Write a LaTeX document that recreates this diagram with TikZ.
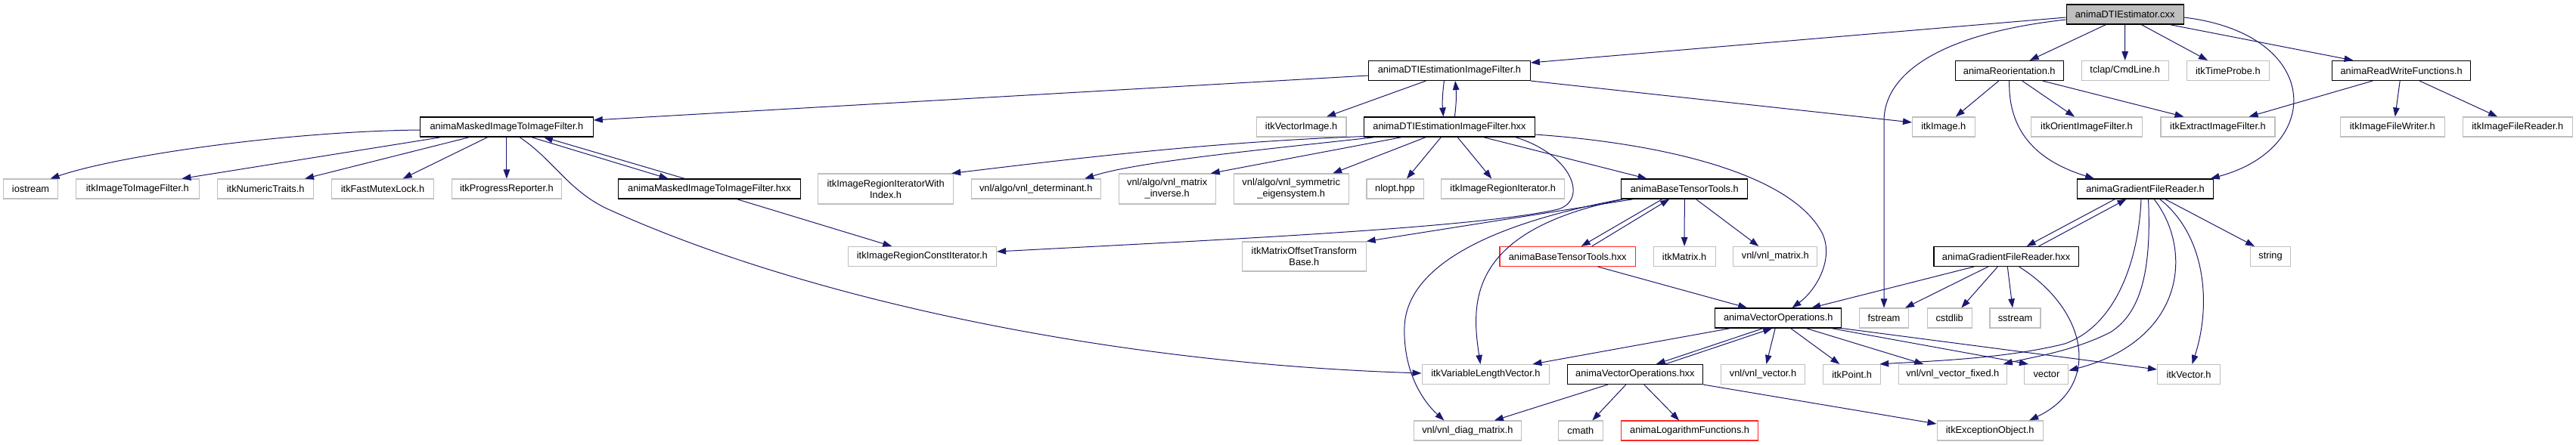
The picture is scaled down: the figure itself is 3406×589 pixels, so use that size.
\documentclass[tikz,border=0pt]{standalone}
\usepackage{fontspec}
\setmainfont{Liberation Sans}
\usepackage{tikz}
\usetikzlibrary{positioning,shapes.geometric,arrows.meta,calc}
\usepackage{xcolor}
\definecolor{edgeblue}{RGB}{25,25,112}
\definecolor{extgray}{RGB}{191,191,191}

\begin{document}
\begin{tikzpicture}[
    x=1pt, y=-1pt,
    >=Triangle,
    hdr/.style={
        rectangle, draw=black, line width=1.1pt, fill=white,
        minimum height=26pt, inner sep=0pt,
        font={\fontsize{12.8}{15}\selectfont}, align=center
    },
    ext/.style={hdr, draw=extgray},
    trunc/.style={hdr, draw=red!85},
    rootfile/.style={hdr, fill=extgray},
    arrow/.style={-{Triangle[length=12pt,width=8.5pt]}, line width=1pt, draw=edgeblue}
]
\useasboundingbox (0,0) rectangle (3406,589);

% Root
\node[rootfile, minimum width=155pt] (root) at (2809.6,19) {animaDTIEstimator.cxx};

% First level includes
\node[hdr, minimum width=213.8pt] (dtih) at (1916.4,93.5) {animaDTIEstimationImageFilter.h};
\node[hdr, minimum width=143.2pt] (reor) at (2656.7,93.5) {animaReorientation.h};
\node[ext, minimum width=114.8pt] (tclap) at (2809.7,93.5) {tclap/CmdLine.h};
\node[ext, minimum width=109.5pt] (timeprobe) at (2945.8,93.5) {itkTimeProbe.h};
\node[hdr, minimum width=182.8pt] (rwf) at (3175.2,93.5) {animaReadWriteFunctions.h};

% Second level
\node[hdr, minimum width=228.6pt] (masked) at (669.9,168) {animaMaskedImageToImageFilter.h};
\node[ext, minimum width=118.8pt] (vecimg) at (1720.6,168) {itkVectorImage.h};
\node[hdr, minimum width=225.7pt] (dtihxx) at (1916.4,168) {animaDTIEstimationImageFilter.hxx};
\node[ext, minimum width=82.5pt] (itkimage) at (2569.8,168) {itkImage.h};
\node[ext, minimum width=146.6pt] (orient) at (2759,168) {itkOrientImageFilter.h};
\node[ext, minimum width=151pt] (extract) at (2932.5,168) {itkExtractImageFilter.h};
\node[ext, minimum width=137.9pt] (writer) at (3163.3,168) {itkImageFileWriter.h};
\node[ext, minimum width=144.6pt] (reader) at (3328.8,168) {itkImageFileReader.h};

% Third level
\node[ext, minimum width=71.4pt] (iostream) at (40.5,250) {iostream};
\node[ext, minimum width=163.2pt] (i2i) at (181.8,250) {itkImageToImageFilter.h};
\node[ext, minimum width=126.9pt] (numeric) at (351.2,250) {itkNumericTraits.h};
\node[ext, minimum width=135.4pt] (mutex) at (506,250) {itkFastMutexLock.h};
\node[ext, minimum width=145.7pt] (progress) at (669.9,250) {itkProgressReporter.h};
\node[hdr, minimum width=240.5pt] (maskedhxx) at (938,250) {animaMaskedImageToImageFilter.hxx};
\node[ext, minimum width=179pt, minimum height=40pt] (ritwi) at (1171.1,250) {itkImageRegionIteratorWith\\Index.h};
\node[ext, minimum width=170.9pt] (determinant) at (1369.7,250) {vnl/algo/vnl\_determinant.h};
\node[ext, minimum width=128pt, minimum height=40pt] (matinv) at (1543.2,250) {vnl/algo/vnl\_matrix\\\_inverse.h};
\node[ext, minimum width=152pt, minimum height=40pt] (symeig) at (1707.2,250) {vnl/algo/vnl\_symmetric\\\_eigensystem.h};
\node[ext, minimum width=75.1pt] (nlopt) at (1844.5,250) {nlopt.hpp};
\node[ext, minimum width=163.2pt] (rit) at (1987.2,250) {itkImageRegionIterator.h};
\node[hdr, minimum width=166.8pt] (btt) at (2227.3,250) {animaBaseTensorTools.h};
\node[hdr, minimum width=179.3pt] (gfr) at (2836.5,250) {animaGradientFileReader.h};

% Fourth level
\node[ext, minimum width=196.4pt] (constit) at (1219.3,339.5) {itkImageRegionConstIterator.h};
\node[ext, minimum width=163.4pt, minimum height=39pt] (mot) at (1724.4,339.5) {itkMatrixOffsetTransform\\Base.h};
\node[trunc, minimum width=179.4pt] (btthxx) at (2072.7,339.5) {animaBaseTensorTools.hxx};
\node[ext, minimum width=82.1pt] (matrix) at (2227.1,339.5) {itkMatrix.h};
\node[ext, minimum width=111pt] (vnlmatrix) at (2347.3,339.5) {vnl/vnl\_matrix.h};
\node[hdr, minimum width=191.2pt] (gfrhxx) at (2652.6,339.5) {animaGradientFileReader.hxx};
\node[ext, minimum width=53.8pt] (string) at (3002,339.5) {string};

% Fifth level
\node[hdr, minimum width=166.9pt] (vecop) at (2351.2,421) {animaVectorOperations.h};
\node[ext, minimum width=65.5pt] (fstream) at (2491,421) {fstream};
\node[ext, minimum width=59.2pt] (cstdlib) at (2577.7,421) {cstdlib};
\node[ext, minimum width=67pt] (sstream) at (2664.5,421) {sstream};

% Sixth level
\node[ext, minimum width=168.7pt] (varlen) at (1964.4,495.5) {itkVariableLengthVector.h};
\node[hdr, minimum width=179.4pt] (vecophxx) at (2161.8,495.5) {animaVectorOperations.hxx};
\node[ext, minimum width=111pt] (vnlvector) at (2331,495.5) {vnl/vnl\_vector.h};
\node[ext, minimum width=76.2pt] (point) at (2448.6,495.5) {itkPoint.h};
\node[ext, minimum width=142.8pt] (vecfixed) at (2581.8,495.5) {vnl/vnl\_vector\_fixed.h};
\node[ext, minimum width=58pt] (vector) at (2705.9,495.5) {vector};
\node[ext, minimum width=83pt] (itkvector) at (2894,495.5) {itkVector.h};

% Seventh level
\node[ext, minimum width=142pt] (diag) at (1940.4,570) {vnl/vnl\_diag\_matrix.h};
\node[ext, minimum width=59.1pt] (cmath) at (2089.9,570) {cmath};
\node[trunc, minimum width=180.4pt] (logfn) at (2234.1,570) {animaLogarithmFunctions.h};
\node[ext, minimum width=140.2pt] (exc) at (2631.2,570) {itkExceptionObject.h};

% Edges from the root
\draw[arrow] ([yshift=-4]root.west) -- ([yshift=10.5]dtih.east);
\draw[arrow] ([yshift=-7]root.west) .. controls (2560,45) and (2491,100) .. (2491,160) -- (fstream.north);
\draw[arrow] ([xshift=-25]root.south) -- ([xshift=27]reor.north);
\draw[arrow] (root.south) -- (tclap.north);
\draw[arrow] ([xshift=21.6]root.south) -- ([xshift=-26.8]timeprobe.north);
\draw[arrow] ([xshift=59]root.south) -- ([xshift=-63.7]rwf.north);
\draw[arrow] ([yshift=-4]root.east) .. controls (3070,45) and (3075,195) .. ([xshift=-4]gfr.north east);

% DTI estimation filter
\draw[arrow] ([yshift=-6.5]dtih.west) -- ([yshift=9]masked.east);
\draw[arrow] ([xshift=-31]dtih.south) -- ([xshift=33.4]vecimg.north);
\draw[arrow] ([xshift=-7]dtih.south) to[bend right=6] ([xshift=-8]dtihxx.north);
\draw[arrow] ([xshift=7]dtihxx.north) to[bend right=6] ([xshift=7.7]dtih.south);
\draw[arrow] (dtih.south east) -- ([yshift=6]itkimage.west);

% Reorientation and read/write
\draw[arrow] ([xshift=-14]reor.south) -- ([xshift=16]itkimage.north);
\draw[arrow] ([xshift=17]reor.south) -- ([xshift=-16]orient.north);
\draw[arrow] ([xshift=44]reor.south) -- ([xshift=-45]extract.north);
\draw[arrow] (reor.south) .. controls (2655,180) and (2700,215) .. ([xshift=-67.5]gfr.north);
\draw[arrow] ([xshift=-38]rwf.south) -- ([xshift=41]extract.north);
\draw[arrow] ([xshift=-2]rwf.south) -- ([xshift=3.5]writer.north);
\draw[arrow] ([xshift=24]rwf.south) -- ([xshift=-26.7]reader.north);

% Masked filter
\draw[arrow] ([yshift=-4]masked.west) .. controls (380,174) and (160,205) .. ([xshift=26]iostream.north);
\draw[arrow] ([xshift=-86]masked.south) -- ([xshift=58.6]i2i.north);
\draw[arrow] ([xshift=-49]masked.south) -- ([xshift=51.8]numeric.north);
\draw[arrow] ([xshift=-25]masked.south) -- ([xshift=26.7]mutex.north);
\draw[arrow] (masked.south) -- (progress.north);
\draw[arrow] ([xshift=32.4]masked.south) -- ([xshift=-54.5]maskedhxx.north);
\draw[arrow] ([xshift=-32.4]maskedhxx.north) -- ([xshift=49]masked.south);
\draw[arrow] ([xshift=17]masked.south) .. controls (730,210) and (750,250) .. (800,275)
    .. controls (1050,390) and (1450,480) .. ([yshift=1.5]varlen.west);
\draw[arrow] ([xshift=36]maskedhxx.south) -- ([xshift=-40]constit.north);

% DTI estimation filter implementation
\draw[arrow] ([yshift=1]dtihxx.south west) .. controls (1600,188) and (1420,210) .. ([xshift=-3]ritwi.north east);
\draw[arrow] ([xshift=-97.7]dtihxx.south) .. controls (1650,200) and (1500,215) .. ([xshift=64.5]determinant.north);
\draw[arrow] ([xshift=-62.6]dtihxx.south) -- ([xshift=-7]matinv.north east);
\draw[arrow] ([xshift=-31]dtihxx.south) -- ([xshift=55]symeig.north);
\draw[arrow] ([xshift=-11]dtihxx.south) -- ([xshift=15.5]nlopt.north);
\draw[arrow] ([xshift=10.7]dtihxx.south) -- ([xshift=-15]rit.north);
\draw[arrow] ([xshift=44.7]dtihxx.south) -- ([xshift=-49.8]btt.north);
\draw[arrow] ([xshift=87]dtihxx.south) .. controls (2080,205) and (2100,265) .. (2060,277)
    .. controls (1950,302) and (1600,318) .. ([yshift=6.5]constit.east);
\draw[arrow] ([yshift=-10]dtihxx.east) .. controls (2200,190) and (2370,230) .. (2410,310)
    .. controls (2425,345) and (2400,385) .. ([xshift=18.3]vecop.north);

% Tensor tools
\draw[arrow] ([xshift=-67]btt.south) -- (mot.north east);
\draw[arrow] ([xshift=-80]btt.south) .. controls (1940,305) and (1945,400) .. ([xshift=-7]varlen.north);
\draw[arrow] ([xshift=-82]btt.south) .. controls (1950,300) and (1860,360) .. (1857,432)
    .. controls (1855,490) and (1880,530) .. ([xshift=-31]diag.north);
\draw[arrow] ([xshift=-29.4]btt.south) -- ([xshift=18]btthxx.north);
\draw[arrow] ([xshift=32]btthxx.north) -- ([xshift=-20]btt.south);
\draw[arrow] (btt.south) -- (matrix.north);
\draw[arrow] ([xshift=15]btt.south) -- ([xshift=-22]vnlmatrix.north);
\draw[arrow] ([xshift=40]btthxx.south) -- ([xshift=-41]vecop.north);

% Gradient file reader
\draw[arrow] ([xshift=-40]gfr.south) -- ([xshift=27]gfrhxx.north);
\draw[arrow] ([xshift=43]gfrhxx.north) -- ([xshift=-25]gfr.south);
\draw[arrow] ([xshift=26]gfr.south) -- ([xshift=-21]string.north);
\draw[arrow] ([xshift=19]gfr.south) .. controls (2915,310) and (2925,400) .. ([xshift=4.5]itkvector.north);
\draw[arrow] ([xshift=11.5]gfr.south) .. controls (2900,330) and (2890,450) .. ([yshift=5]vector.east);
\draw[arrow] ([xshift=4]gfr.south) .. controls (2845,360) and (2830,415) .. (2790,440)
    .. controls (2740,465) and (2690,472) .. ([xshift=-5]vecfixed.north east);
\draw[arrow] ([xshift=-5.5]gfr.south) .. controls (2828,340) and (2800,430) .. (2730,455)
    .. controls (2650,475) and (2550,478) .. ([xshift=-2]point.north east);
\draw[arrow] ([xshift=-42.7]gfrhxx.south) -- ([xshift=44]vecop.north);
\draw[arrow] ([xshift=-24]gfrhxx.south) -- ([xshift=28]fstream.north);
\draw[arrow] ([xshift=-11.3]gfrhxx.south) -- ([xshift=15.6]cstdlib.north);
\draw[arrow] ([xshift=1.7]gfrhxx.south) -- ([xshift=-3.5]sstream.north);
\draw[arrow] ([xshift=17]gfrhxx.south) .. controls (2760,410) and (2780,510) .. ([xshift=52]exc.north);

% Vector operations
\draw[arrow] ([xshift=-63]vecop.south) -- ([xshift=62]varlen.north);
\draw[arrow] ([xshift=-20]vecop.south) -- ([xshift=28]vecophxx.north);
\draw[arrow] ([xshift=40]vecophxx.north) -- ([xshift=-8]vecop.south);
\draw[arrow] ([xshift=-4]vecop.south) -- ([xshift=4.4]vnlvector.north);
\draw[arrow] ([xshift=16.4]vecop.south) -- ([xshift=-16.3]point.north);
\draw[arrow] ([xshift=36.8]vecop.south) -- ([xshift=-38.5]vecfixed.north);
\draw[arrow] ([xshift=70]vecop.south) -- ([xshift=-24]vector.north);
\draw[arrow] (vecop.south east) -- ([yshift=6.5]itkvector.west);
\draw[arrow] ([xshift=-36]vecophxx.south) -- ([xshift=35.5]diag.north);
\draw[arrow] ([xshift=-12]vecophxx.south) -- ([xshift=15.5]cmath.north);
\draw[arrow] ([xshift=12]vecophxx.south) -- ([xshift=-14]logfn.north);
\draw[arrow] (vecophxx.south east) -- ([yshift=9]exc.west);

\end{tikzpicture}
\end{document}
